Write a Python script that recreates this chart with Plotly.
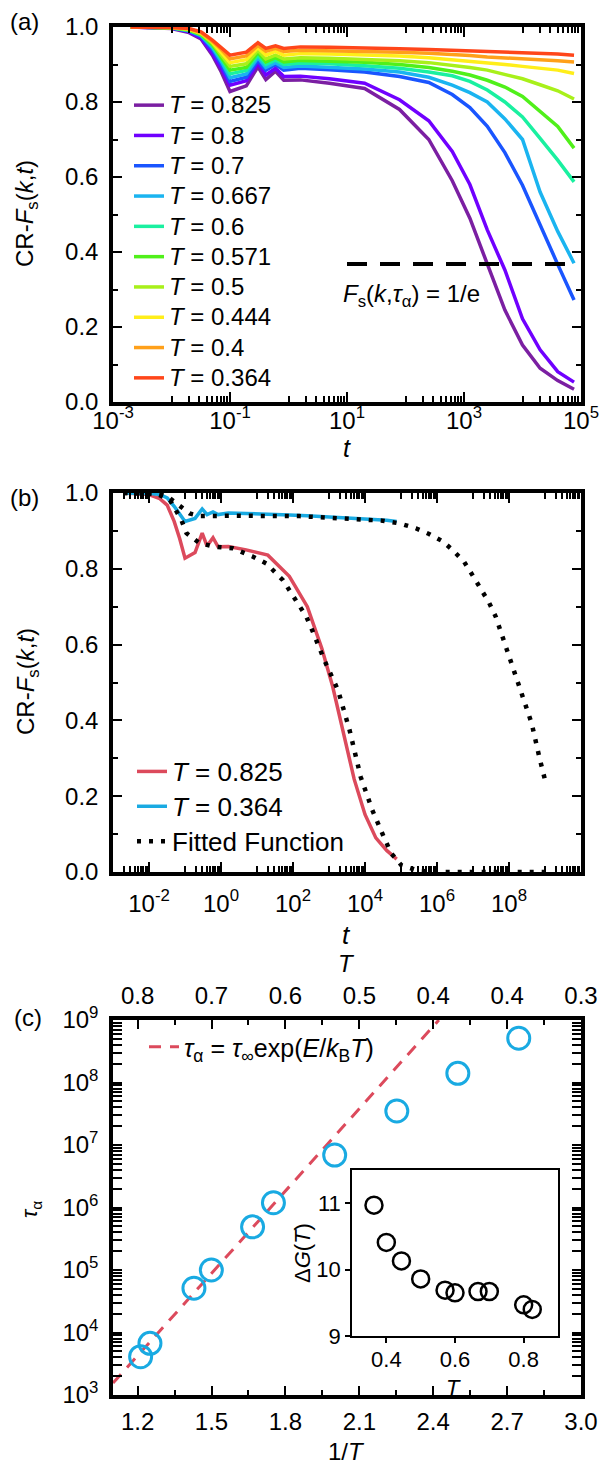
import numpy as np
import plotly.graph_objects as go

W, H = 602, 1468
FONT = "Liberation Sans, Arial, sans-serif"

# ---------------- data: panel (a) ----------------
temps_a = ["0.825", "0.8", "0.7", "0.667", "0.6", "0.571", "0.5", "0.444", "0.4", "0.364"]
colors_a = ["#7b1fa2", "#7000ff", "#1a55ff", "#1ab4f0", "#1af0a0", "#50f01a",
            "#a8f01a", "#ffee1a", "#ffa01a", "#ff461a"]
t_a = [0.002, 0.005, 0.01, 0.02, 0.032, 0.05, 0.071, 0.1, 0.19, 0.3, 0.41, 0.6, 0.83,
       1.6, 5, 20, 79, 250, 630, 1260, 2500, 5000, 10000, 20000, 40000, 76000]
fs_0825 = [1.0, 0.999, 0.996, 0.985, 0.968, 0.925, 0.88, 0.828, 0.843, 0.894, 0.86, 0.882, 0.858,
           0.859, 0.85, 0.836, 0.78, 0.70, 0.59, 0.49, 0.367, 0.245, 0.152, 0.09, 0.057, 0.034]
fs_0800 = [1.0, 0.999, 0.997, 0.987, 0.971, 0.93, 0.89, 0.845, 0.857, 0.903, 0.872, 0.89, 0.868,
           0.869, 0.862, 0.85, 0.806, 0.75, 0.668, 0.58, 0.459, 0.352, 0.222, 0.139, 0.081, 0.053]
fs_0700 = [1.0, 1.0, 0.997, 0.989, 0.975, 0.94, 0.9, 0.855, 0.866, 0.91, 0.885, 0.9, 0.885,
           0.89, 0.886, 0.88, 0.868, 0.852, 0.82, 0.785, 0.735, 0.665, 0.578, 0.47, 0.367, 0.272]
fs_0667 = [1.0, 1.0, 0.998, 0.99, 0.977, 0.945, 0.908, 0.865, 0.875, 0.918, 0.892, 0.905, 0.892,
           0.896, 0.893, 0.888, 0.88, 0.866, 0.845, 0.825, 0.8, 0.755, 0.70, 0.56, 0.455, 0.37]
fs_0600 = [1.0, 1.0, 0.998, 0.991, 0.979, 0.95, 0.915, 0.875, 0.884, 0.925, 0.9, 0.912, 0.9,
           0.904, 0.902, 0.897, 0.89, 0.88, 0.87, 0.855, 0.832, 0.8, 0.76, 0.703, 0.645, 0.587]
fs_0571 = [1.0, 1.0, 0.998, 0.992, 0.98, 0.953, 0.92, 0.885, 0.892, 0.932, 0.907, 0.918, 0.907,
           0.911, 0.909, 0.906, 0.9, 0.892, 0.882, 0.872, 0.858, 0.84, 0.815, 0.775, 0.735, 0.677]
fs_0500 = [1.0, 1.0, 0.998, 0.993, 0.982, 0.957, 0.927, 0.895, 0.902, 0.938, 0.915, 0.925, 0.915,
           0.918, 0.917, 0.914, 0.91, 0.905, 0.898, 0.892, 0.885, 0.874, 0.862, 0.846, 0.83, 0.808]
fs_0444 = [1.0, 1.0, 0.999, 0.994, 0.984, 0.96, 0.933, 0.905, 0.913, 0.945, 0.925, 0.935, 0.925,
           0.929, 0.928, 0.926, 0.923, 0.918, 0.913, 0.909, 0.905, 0.9, 0.895, 0.89, 0.885, 0.876]
fs_0400 = [1.0, 1.0, 0.999, 0.995, 0.985, 0.962, 0.94, 0.915, 0.923, 0.951, 0.935, 0.943, 0.935,
           0.938, 0.937, 0.935, 0.933, 0.93, 0.927, 0.924, 0.92, 0.918, 0.915, 0.912, 0.91, 0.907]
fs_0364 = [1.0, 1.0, 0.999, 0.996, 0.987, 0.965, 0.945, 0.925, 0.933, 0.958, 0.943, 0.95, 0.943,
           0.947, 0.946, 0.945, 0.942, 0.94, 0.938, 0.937, 0.935, 0.933, 0.932, 0.93, 0.928, 0.925]
series_a = [fs_0825, fs_0800, fs_0700, fs_0667, fs_0600, fs_0571, fs_0500, fs_0444, fs_0400, fs_0364]
line_e_t = [10, 76000]
line_e_v = [1 / np.e, 1 / np.e]

a_xtick_vals = [1e-3, 1e-1, 1e1, 1e3, 1e5]
a_xtick_text = ["10<sup>-3</sup>", "10<sup>-1</sup>", "10<sup>1</sup>", "10<sup>3</sup>", "10<sup>5</sup>"]
a_minor = [k * 10.0 ** d for d in (-2, 0, 2, 4) for k in range(1, 10)]

# ---------------- data: panel (b) ----------------
fit_0825_t = [0.00195, 0.0162, 0.038, 0.079, 0.11, 0.257, 0.74, 2.14, 7.76, 18.2, 52.5, 135, 234,
              355, 741, 1778, 3715, 7586, 15849, 33113, 53703, 102329, 316000, 1e6, 1e7, 1e8, 1e9]
fit_0825_v = [1.0, 0.998, 0.982, 0.929, 0.894, 0.867, 0.858, 0.854, 0.832, 0.814, 0.77, 0.709, 0.674,
              0.634, 0.559, 0.48, 0.375, 0.251, 0.164, 0.093, 0.049, 0.018, 0.003, 0.0, 0.0, 0.0, 0.0]
fit_0364_t = [0.00195, 0.02, 0.038, 0.072, 0.135, 0.257, 2.14, 151, 30900, 89100, 257000, 603000,
              1.41e6, 2.69e6, 5.62e6, 9.55e6, 1.62e7, 2.75e7, 4.27e7, 5.89e7, 8.13e7, 1.1e8, 1.51e8,
              2.29e8, 4.27e8, 6.92e8, 1e9]
fit_0364_v = [1.0, 0.999, 0.986, 0.964, 0.946, 0.939, 0.94, 0.939, 0.927, 0.92, 0.907, 0.892,
              0.873, 0.85, 0.819, 0.784, 0.749, 0.712, 0.674, 0.634, 0.597, 0.555, 0.516,
              0.467, 0.392, 0.304, 0.243]
b_xtick_vals = [1e-2, 1e0, 1e2, 1e4, 1e6, 1e8]
b_xtick_text = ["10<sup>-2</sup>", "10<sup>0</sup>", "10<sup>2</sup>", "10<sup>4</sup>",
                "10<sup>6</sup>", "10<sup>8</sup>"]
b_minor = [k * 10.0 ** d for d in (-3, -1, 1, 3, 5, 7, 9) for k in range(1, 10)]

# ---------------- data: panel (c) ----------------
T_c = [0.825, 0.8, 0.7, 0.667, 0.6, 0.571, 0.5, 0.444, 0.4, 0.364]
tau_alpha = [4100, 6700, 51000, 1.0e5, 4.9e5, 1.19e6, 6.9e6, 3.5e7, 1.4e8, 5.1e8]
arr_invT = [1.1, 2.423]
arr_tau = [1550, 1.0e9]
c_xtick_vals = [1.2, 1.5, 1.8, 2.1, 2.4, 2.7, 3.0]
c_top_text = ["0.8", "0.7", "0.6", "0.5", "0.4", "0.4", "0.3"]
c_ytick_vals = [1e3, 1e4, 1e5, 1e6, 1e7, 1e8, 1e9]
c_ytick_text = ["10<sup>%d</sup>" % k for k in range(3, 10)]
c_minor = [k * 10.0 ** d for d in range(3, 9) for k in range(2, 10)]
dG = [9.40, 9.47, 9.67, 9.67, 9.65, 9.69, 9.86, 10.13, 10.41, 10.97]

RED = "#dc4a5c"
CYAN = "#19aae2"

fig = go.Figure()

# panel (a)
for name, col, vals in zip(temps_a, colors_a, series_a):
    fig.add_trace(go.Scatter(x=t_a, y=vals, mode="lines", xaxis="x", yaxis="y",
                             line=dict(color=col, width=3.5),
                             name='<span style="font-size:24px"><i>T</i> = %s</span>' % name,
                             legend="legend"))
fig.add_trace(go.Scatter(x=line_e_t, y=line_e_v, mode="lines", xaxis="x", yaxis="y",
                         line=dict(color="black", width=4, dash="20px,13px"), showlegend=False))

# panel (b)
fig.add_trace(go.Scatter(x=t_a, y=fs_0825, mode="lines", xaxis="x2", yaxis="y2",
                         line=dict(color=RED, width=3.5), legend="legend2",
                         name='<span style="font-size:26px"><i>T</i> = 0.825</span>'))
fig.add_trace(go.Scatter(x=t_a, y=fs_0364, mode="lines", xaxis="x2", yaxis="y2",
                         line=dict(color=CYAN, width=3.5), legend="legend2",
                         name='<span style="font-size:26px"><i>T</i> = 0.364</span>'))
fig.add_trace(go.Scatter(x=fit_0825_t, y=fit_0825_v, mode="lines", xaxis="x2", yaxis="y2",
                         line=dict(color="black", width=4.5, dash="4px,8px"), legend="legend2",
                         name='<span style="font-size:26px">Fitted Function</span>'))
fig.add_trace(go.Scatter(x=fit_0364_t, y=fit_0364_v, mode="lines", xaxis="x2", yaxis="y2",
                         line=dict(color="black", width=4.5, dash="4px,8px"), showlegend=False))

# panel (c)
fig.add_trace(go.Scatter(x=arr_invT, y=arr_tau, mode="lines", xaxis="x3", yaxis="y3",
                         line=dict(color=RED, width=3, dash="12px,9px"), legend="legend3",
                         name='<i>τ</i><sub>α</sub> = <i>τ</i><sub>∞</sub>exp(<i>E</i>/<i>k</i><sub>B</sub><i>T</i>)'))
fig.add_trace(go.Scatter(x=[1 / T for T in T_c], y=tau_alpha, mode="markers", xaxis="x3", yaxis="y3",
                         marker=dict(symbol="circle-open", size=22, color=CYAN, line=dict(width=3)),
                         showlegend=False))
fig.add_trace(go.Scatter(x=[1 / T for T in T_c], y=tau_alpha, mode="markers", xaxis="x4", yaxis="y3",
                         marker=dict(opacity=0), showlegend=False, hoverinfo="skip"))
fig.add_trace(go.Scatter(x=T_c, y=dG, mode="markers", xaxis="x5", yaxis="y5",
                         marker=dict(symbol="circle-open", size=17, color="black", line=dict(width=2.5)),
                         showlegend=False))

def py0(top, bottom):
    return [1 - bottom / H, 1 - top / H]

XD = [113 / W, 581 / W]
tickfont = dict(family=FONT, size=24, color="black")
common = dict(showgrid=False, zeroline=False, automargin=False, showline=True, linecolor="black",
              tickcolor="black")

def lin_y(domain, anchor):
    return dict(domain=domain, anchor=anchor, range=[0, 1.0], tickvals=[0, 0.2, 0.4, 0.6, 0.8, 1.0],
                ticktext=["0.0", "0.2", "0.4", "0.6", "0.8", "1.0"],
                ticks="inside", ticklen=9, tickwidth=2,
                minor=dict(tickvals=[0.1, 0.3, 0.5, 0.7, 0.9], ticks="inside", ticklen=5,
                           tickwidth=1.5, tickcolor="black"),
                linewidth=3.5, mirror="allticks", tickfont=tickfont, ticklabelstandoff=6, **common)

def log_x(domain, anchor, rng, tv, tt, minor, standoff):
    return dict(domain=domain, anchor=anchor, type="log", range=rng, tickvals=tv, ticktext=tt,
                ticks="inside", ticklen=10, tickwidth=2,
                minor=dict(tickvals=minor, ticks="inside", ticklen=6, tickwidth=1.5, tickcolor="black"),
                linewidth=3.5, mirror="allticks", tickfont=tickfont, ticklabelstandoff=standoff, **common)

layout = dict(
    width=W, height=H, margin=dict(l=0, r=0, t=0, b=0),
    paper_bgcolor="white", plot_bgcolor="white",
    font=dict(family=FONT, size=24, color="black"),
    xaxis=log_x(XD, "y", [-3, 5], a_xtick_vals, a_xtick_text, a_minor, -6),
    yaxis=lin_y(py0(27, 402), "x"),
    xaxis2=log_x(XD, "y2", [-3, 10], b_xtick_vals, b_xtick_text, b_minor, 7),
    yaxis2=lin_y(py0(493, 872), "x2"),
    xaxis3=dict(domain=XD, anchor="y3", range=[1.1, 3.0], tickvals=c_xtick_vals,
                ticktext=["%.1f" % v for v in c_xtick_vals],
                ticks="inside", ticklen=9, tickwidth=2,
                minor=dict(dtick=0.15, tick0=1.05, ticks="inside", ticklen=5, tickwidth=1.5, tickcolor="black"),
                linewidth=3.5, mirror=True, tickfont=tickfont, ticklabelstandoff=2, **common),
    xaxis4=dict(overlaying="x3", anchor="y3", side="top", range=[1.1, 3.0], tickvals=c_xtick_vals,
                ticktext=c_top_text,
                ticks="inside", ticklen=9, tickwidth=2,
                minor=dict(dtick=0.15, tick0=1.05, ticks="inside", ticklen=5, tickwidth=1.5, tickcolor="black"),
                linewidth=3.5, tickfont=tickfont, ticklabelstandoff=3, **common),
    yaxis3=dict(domain=py0(1020, 1395), anchor="x3", type="log", range=[3, 9],
                tickvals=c_ytick_vals, ticktext=c_ytick_text,
                ticks="inside", ticklen=9, tickwidth=2,
                minor=dict(tickvals=c_minor, ticks="inside", ticklen=5, tickwidth=1.5, tickcolor="black"),
                linewidth=3.5, mirror="allticks", tickfont=tickfont, ticklabelstandoff=6, **common),
    xaxis5=dict(domain=[352 / W, 558 / W], anchor="y5", range=[0.3, 0.9], tickvals=[0.4, 0.6, 0.8],
                ticktext=["0.4", "0.6", "0.8"], ticks="outside", ticklen=5, tickwidth=1.5,
                linewidth=1.5, mirror=True, tickfont=dict(family=FONT, size=22, color="black"),
                ticklabelstandoff=-2, **common),
    yaxis5=dict(domain=py0(1170, 1336), anchor="x5", range=[9, 11.5], tickvals=[9, 10, 11],
                ticktext=["9", "10", "11"], ticks="outside", ticklen=5, tickwidth=1.5,
                linewidth=1.5, mirror=True, tickfont=dict(family=FONT, size=22, color="black"), **common),
    legend=dict(x=129 / W, y=1 - 85 / H, xanchor="left", yanchor="top", bgcolor="rgba(0,0,0,0)",
                font=dict(family=FONT, size=21, color="black"), tracegroupgap=0),
    legend2=dict(x=132 / W, y=1 - 749 / H, xanchor="left", yanchor="top", bgcolor="rgba(0,0,0,0)",
                 font=dict(family=FONT, size=24.5, color="black")),
    legend3=dict(x=144 / W, y=1 - 1024 / H, xanchor="left", yanchor="top", bgcolor="rgba(0,0,0,0)",
                 font=dict(family=FONT, size=25, color="black")),
    showlegend=True,
)
fig.update_layout(**layout)

def label(text, xpx, ypx, size=24, angle=0, anchor="center"):
    fig.add_annotation(text=text, x=xpx / W, y=1 - ypx / H, xref="paper", yref="paper",
                       xanchor=anchor, yanchor="middle", showarrow=False, textangle=angle,
                       font=dict(family=FONT, size=size, color="black"))

# panel labels
label("(a)", 8, 22, anchor="left")
label("(b)", 8, 497, anchor="left")
label("(c)", 12, 1017, anchor="left")
# axis titles
ytitle = "CR-<i>F</i><sub>s</sub>(<i>k</i>,<i>t</i>)"
label(ytitle, 27, 214, angle=-90)
label(ytitle, 27, 682, angle=-90)
label("<i>t</i>", 347, 448, size=25)
label("<i>t</i>", 347, 935, size=26)
label("<i>T</i>", 347, 963)
label("1/<i>T</i>", 347, 1451)
label("<i>τ</i><sub>α</sub>", 31, 1210, size=22, angle=-90)
label("<i>T</i>", 453, 1387, size=22)
label("Δ<i>G</i>(<i>T</i>)", 302, 1253, size=22, angle=-90)
# in-plot text
label("<i>F</i><sub>s</sub>(<i>k</i>,<i>τ</i><sub>α</sub>) = 1/e", 341, 296, anchor="left")

fig.write_html("out.html")
